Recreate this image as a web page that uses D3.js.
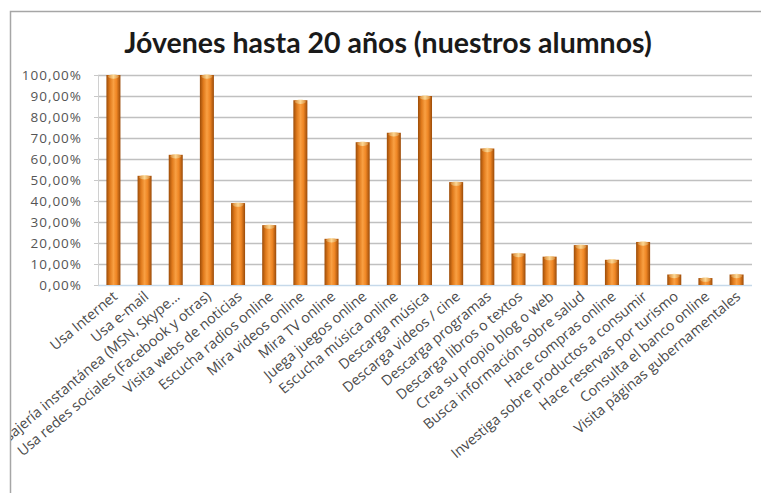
<!DOCTYPE html>
<html><head><meta charset="utf-8">
<script src="https://cdn.jsdelivr.net/npm/d3@7"></script>
<style>body{margin:0;background:#fff;} svg{display:block;}</style>
</head><body>
<svg id="c" width="761" height="493"></svg>
<script>
const categories = ["Usa Internet","Usa e-mail","Mensajería instantánea (MSN, Skype...","Usa redes sociales (Facebook y otras)","Visita webs de noticias","Escucha radios online","Mira videos online","Mira TV online","Juega juegos online","Escucha música online","Descarga música","Descarga videos / cine","Descarga programas","Descarga libros o textos","Crea su propio blog o web","Busca información sobre salud","Hace compras online","Investiga sobre productos a consumir","Hace reservas por turismo","Consulta el banco online","Visita páginas gubernamentales"];
const values = [1.00,0.52,0.62,1.00,0.39,0.285,0.88,0.22,0.68,0.725,0.90,0.49,0.65,0.15,0.135,0.19,0.12,0.205,0.05,0.033,0.05];
const yTicks = [0,0.1,0.2,0.3,0.4,0.5,0.6,0.7,0.8,0.9,1.0];
const title = "Jóvenes hasta 20 años (nuestros alumnos)";

const svg = d3.select("#c");
const defs = svg.append("defs");
const g1 = defs.append("linearGradient").attr("id","bar").attr("x1","0").attr("x2","1").attr("y1","0").attr("y2","0");
[[0,"#9c4c08"],[0.25,"#e07a1c"],[0.5,"#f9a043"],[0.72,"#ef8624"],[1,"#9a4a08"]].forEach(s=>g1.append("stop").attr("offset",s[0]).attr("stop-color",s[1]));
const g2 = defs.append("linearGradient").attr("id","cap").attr("x1","0").attr("x2","1");
[[0,"#d89040"],[0.5,"#fde0a0"],[1,"#d89040"]].forEach(s=>g2.append("stop").attr("offset",s[0]).attr("stop-color",s[1]));
defs.append("clipPath").attr("id","frame").append("rect").attr("x",11).attr("y",12).attr("width",760).attr("height",490);

// frame
svg.append("rect").attr("x",10.5).attr("y",11.5).attr("width",770).attr("height",500)
  .attr("fill","#fff").attr("stroke","#a6a6a6").attr("stroke-width",1.5);

svg.append("text").attr("x",388).attr("y",53).attr("text-anchor","middle")
  .attr("font-family","Lato, 'Open Sans', sans-serif").attr("font-weight","bold")
  .attr("font-size",28.5).attr("fill","#1a1a1a").text(title);

const x = d3.scaleBand().domain(categories).range([98,752]).paddingInner(0.55).paddingOuter(0.27);
const y = d3.scaleLinear().domain([0,1]).range([285,75]);

// gridlines
svg.append("g").selectAll("line").data(yTicks).join("line")
  .attr("x1",98).attr("x2",752).attr("y1",d=>Math.round(y(d))+0.5).attr("y2",d=>Math.round(y(d))+0.5)
  .attr("stroke",d=>d===0?"#c6d9ea":"#c0c0c0").attr("stroke-width",1.3);

// y axis
const ya = svg.append("g").attr("transform","translate(98,0)")
  .call(d3.axisLeft(y).tickValues(yTicks).tickSize(4).tickFormat(d=>d3.format(".2f")(d*100).replace(".",",")+"%"));
ya.select(".domain").attr("stroke","#d0d0d0");
ya.selectAll(".tick line").attr("stroke","#c8c8c8");
ya.selectAll("text").attr("font-family","'Open Sans', sans-serif").attr("font-size",13.5)
  .attr("letter-spacing",1).attr("fill","#555").attr("x",-16);

// bars
const bw = x.bandwidth();
const bars = svg.append("g");
bars.selectAll("rect.b").data(values).join("rect").attr("class","b")
  .attr("x",(d,i)=>x(categories[i])).attr("y",d=>y(d)).attr("width",bw).attr("height",d=>y(0)-y(d))
  .attr("fill","url(#bar)");
bars.selectAll("ellipse").data(values).join("ellipse")
  .attr("cx",(d,i)=>x(categories[i])+bw/2).attr("cy",d=>y(d)+1.5).attr("rx",bw/2-1.5).attr("ry",2.2)
  .attr("fill","url(#cap)").attr("opacity",0.85);

// x labels
const xl = svg.append("g").attr("clip-path","url(#frame)");
xl.selectAll("text").data(categories).join("text")
  .attr("transform",d=>`translate(${x(d)+bw/2+5},${298}) rotate(-40)`)
  .attr("text-anchor","end").attr("font-family","'Open Sans', sans-serif").attr("font-size",14.3)
  .attr("fill","#4a4a4a").text(d=>d);
</script>
</body></html>
